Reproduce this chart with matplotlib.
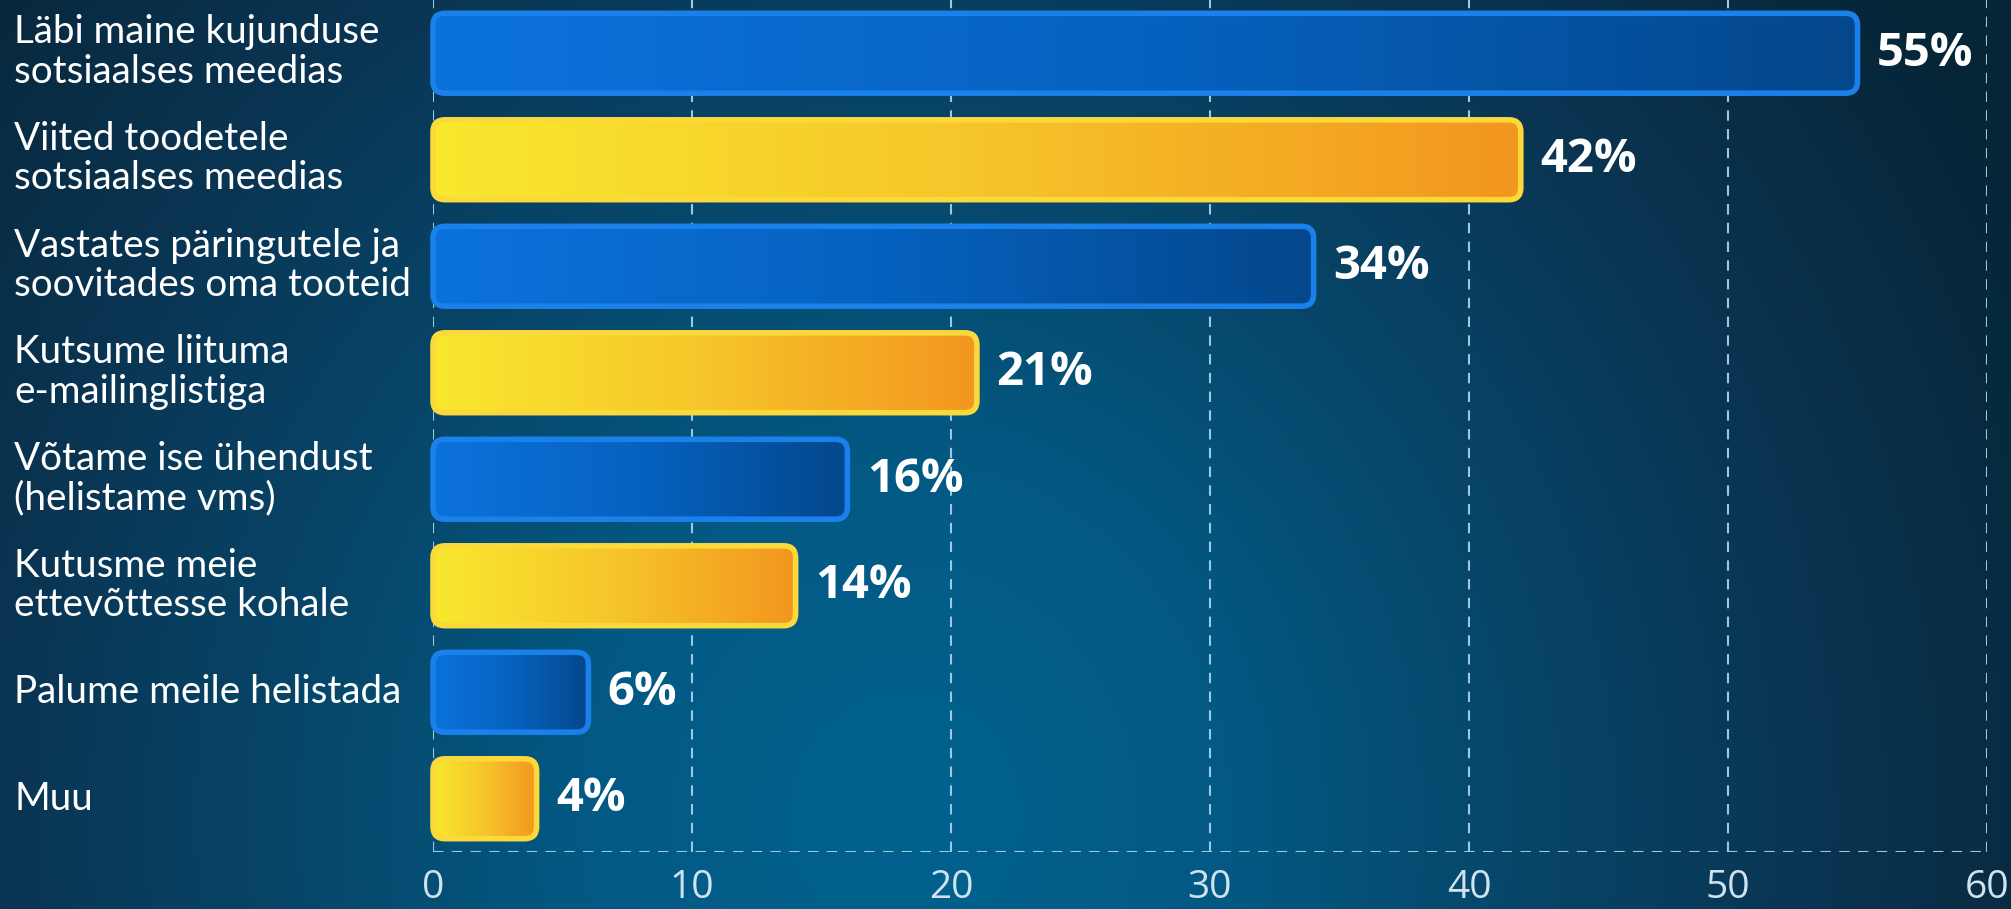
import numpy as np
import matplotlib
matplotlib.use("Agg")
import matplotlib.pyplot as plt
from matplotlib.patches import FancyBboxPatch
from matplotlib.colors import LinearSegmentedColormap

categories = [
    "Läbi maine kujunduse\nsotsiaalses meedias",
    "Viited toodetele\nsotsiaalses meedias",
    "Vastates päringutele ja\nsoovitades oma tooteid",
    "Kutsume liituma\ne-mailinglistiga",
    "Võtame ise ühendust\n(helistame vms)",
    "Kutusme meie\nettevõttesse kohale",
    "Palume meile helistada",
    "Muu",
]
values = [55, 42, 34, 21, 16, 14, 6, 4]
value_labels = ["55%", "42%", "34%", "21%", "16%", "14%", "6%", "4%"]
xticks = [0, 10, 20, 30, 40, 50, 60]

W, H = 2011, 909
fig = plt.figure(figsize=(W / 100, H / 100), dpi=100)

# background gradient
bg = fig.add_axes([0, 0, 1, 1], zorder=-10)
bg.set_axis_off()
yy, xx = np.mgrid[0:1:300j, 0:1:600j]
d = np.sqrt(((xx - 0.45) / 0.62) ** 2 + ((yy - 0.1) / 1.5) ** 2)
d = np.clip(d, 0, 1)
bg_cmap = LinearSegmentedColormap.from_list(
    "bg", ["#01628f", "#035a84", "#074568", "#0a3350", "#062638"])
bg.imshow(d, cmap=bg_cmap, aspect="auto", extent=[0, 1, 0, 1], origin="lower",
          vmin=0, vmax=1)
bg.set_xlim(0, 1)
bg.set_ylim(0, 1)

ax = fig.add_axes([433 / W, (H - 852) / H, (1987 - 433) / W, 852 / H])
ax.set_facecolor("none")
ax.set_xlim(0, 60)
n = len(categories)
ypos = np.arange(n)
ax.set_ylim(n - 0.5, -0.5)

bars = ax.barh(ypos, values, height=0.75, color="none", edgecolor="none")

blue_cmap = LinearSegmentedColormap.from_list("bl", ["#0b72dc", "#0662c0", "#04478c"])
yel_cmap = LinearSegmentedColormap.from_list("yl", ["#f9e82e", "#f6c52a", "#f3961f"])
edge_colors = ["#1a80ea", "#fbd93a"]

ux = 60 / 1554.0
uy = n / 852.0
aspect = uy / ux
rad = 12 * ux

for i, b in enumerate(bars):
    x0, y0 = b.get_x(), b.get_y()
    w, h = b.get_width(), b.get_height()
    cmap = blue_cmap if i % 2 == 0 else yel_cmap
    patch = FancyBboxPatch((x0, y0), w, h,
                           boxstyle=f"round,pad=0,rounding_size={rad}",
                           mutation_aspect=aspect,
                           facecolor="none", edgecolor=edge_colors[i % 2],
                           linewidth=4, zorder=4, clip_on=False)
    ax.add_patch(patch)
    grad = np.linspace(0, 1, 256)[None, :]
    img = ax.imshow(np.repeat(grad, 20, axis=0), cmap=cmap, aspect="auto",
                    extent=[x0, x0 + w, y0 + h, y0], zorder=3,
                    interpolation="bilinear")
    img.set_clip_path(patch)
    ax.annotate(value_labels[i], xy=(x0 + w, ypos[i]), xytext=(14, 0),
                textcoords="offset points", ha="left", va="center",
                fontsize=34, fontweight="bold", color="white",
                family="Open Sans", zorder=5, annotation_clip=False)

ax.set_xlim(0, 60)
ax.set_ylim(n - 0.5, -0.5)

# gridlines
grid_color = "#9cc8e2"
for xv in xticks:
    ax.axvline(xv, color=grid_color, lw=1.5, ls=(0, (5, 4)), zorder=1)
ax.axhline(n - 0.5, color=grid_color, lw=1.5, ls=(0, (5, 4)), zorder=1)

for s in ax.spines.values():
    s.set_visible(False)

ax.set_xticks(xticks)
ax.set_xticklabels([str(v) for v in xticks], fontsize=28, color="#cfe2ee",
                   family="Open Sans")
ax.tick_params(axis="x", length=0, pad=12)
ax.set_yticks(ypos)
ax.set_yticklabels([])
ax.tick_params(axis="y", length=0)

for i, c in enumerate(categories):
    fig.text(14 / W, 1 - (52 + i * 106.7) / H, c, ha="left", va="center",
             fontsize=27.8, color="white", family="Lato",
             linespacing=1.12)

fig.savefig("out.png", dpi=100)
